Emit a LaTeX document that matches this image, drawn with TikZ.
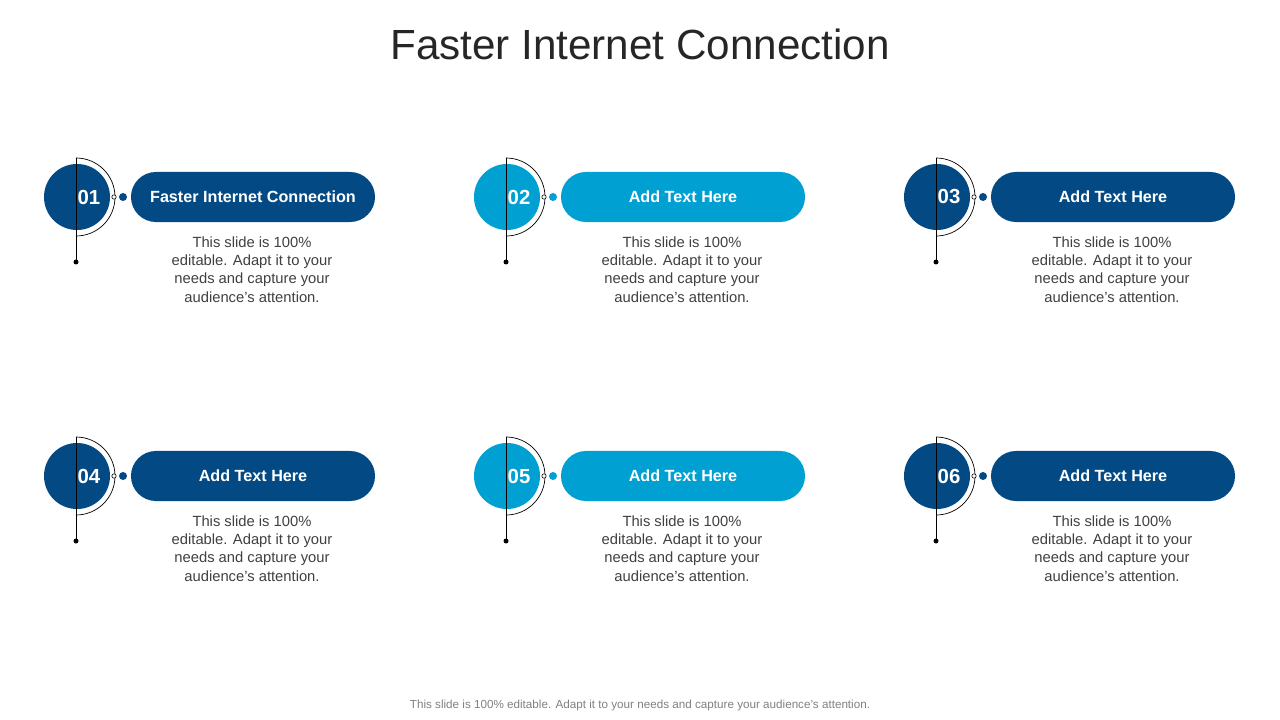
\documentclass[tikz,border=0pt]{standalone}
\usepackage{fontspec}
\setmainfont{Liberation Sans}
\definecolor{darkblue}{HTML}{034A85}
\definecolor{lightblue}{HTML}{00A0D2}
\definecolor{textgray}{HTML}{404040}
\begin{document}
\begin{tikzpicture}[x=0.025cm,y=-0.025cm]
	\tikzset{
		disc/.style={circle,minimum size=66\pgflinewidth,inner sep=0pt,minimum size=1.65cm},
		pill/.style={rounded corners=0.625cm,minimum width=6.1cm,minimum height=1.25cm,text=white,font=\bfseries\fontsize{11.5}{13}\selectfont},
		body/.style={align=center,text=textgray,font=\fontsize{10.5}{12.9}\selectfont,anchor=north},
		num/.style={text=white,font=\bfseries\fontsize{14.5}{16}\selectfont}
	}
	\useasboundingbox (0,0) rectangle (1280,720);
	\node[font=\fontsize{30}{36}\selectfont,text=black!85] (title) at (640,44) {Faster Internet Connection};
	\foreach \i/\cx/\cy/\col/\lab in {01/0/197/darkblue/Faster Internet Connection,02/430/197/lightblue/Add  Text Here,03/860/197/darkblue/Add  Text Here,04/0/476/darkblue/Add  Text Here,05/430/476/lightblue/Add  Text Here,06/860/476/darkblue/Add  Text Here}{
		\node[disc,fill=\col] (c\i) at (77+\cx,\cy) {};
		\node[num] (n\i) at (89+\cx,\cy) {\i};
		\draw[black,line width=0.5pt] (76+\cx,\cy-39) arc[start angle=90,end angle=-90,radius=0.975cm];
		\draw[black,line width=0.7pt] (76+\cx,\cy-39) -- (76+\cx,\cy+65);
		\fill[black] (76+\cx,\cy+65) circle (2.5);
		\draw[black,fill=white,line width=0.4pt] (114+\cx,\cy) circle (2.2);
		\fill[\col] (123+\cx,\cy) circle (4);
		\node[pill,fill=\col] (p\i) at (253+\cx,\cy) {\lab};
		\node[body] (t\i) at (252+\cx,\cy+35) {This slide is 100\%\\editable. Adapt it to your\\needs and capture your\\audience's attention.};
	}
	\node[text=gray,font=\fontsize{8.3}{10}\selectfont] (foot) at (640,705) {This slide is 100\% editable. Adapt it to your needs and capture your audience's attention.};
\end{tikzpicture}
\end{document}
